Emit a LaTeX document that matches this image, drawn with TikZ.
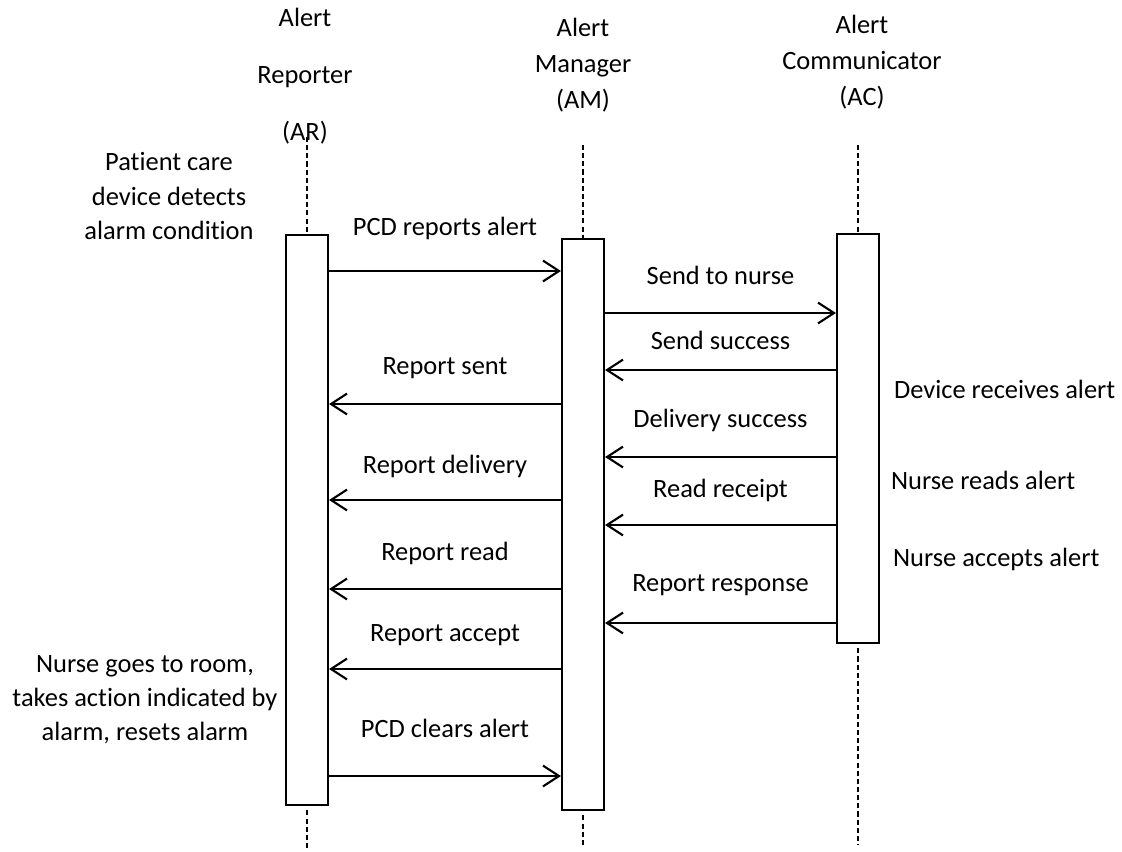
\documentclass[tikz,border=0pt]{standalone}
\usepackage{fontspec}
\setmainfont{Carlito}[Ligatures=NoCommon]
\usetikzlibrary{arrows.meta}

\tikzset{every picture/.style={line width=1.5pt, x=0.025cm, y=-0.025cm},
        every node/.style={font=\fontsize{18.8}{24.2}\selectfont, inner sep=0pt},
        lifeBox/.style={draw=black, fill=white, minimum width=1.05cm},
        lifeLine/.style={line width=1pt, dash pattern=on 3.6pt off 2.2pt},
        headText/.style={align=center, font=\fontsize{18.8}{25.6}\selectfont},
        msgArrow/.style={-{Straight Barb[length=4mm, width=5.2mm]}}}

\begin{document}
\begin{tikzpicture}
\useasboundingbox (0,0) rectangle (1122,851);

% draw activation boxes
\node[lifeBox, minimum height=14.25cm] (ar) at (307,520) {};
\node[lifeBox, minimum height=14.275cm] (am) at (583,524.5) {};
\node[lifeBox, minimum height=10.225cm] (ac) at (858,438.5) {};

% draw headers
\node[headText] (ar-head) at (305,76) {Alert\\[15pt]Reporter\\[15pt](AR)};
\node[headText] (am-head) at (583,65) {Alert\\Manager\\(AM)};
\node[headText] (ac-head) at (862,62) {Alert\\Communicator\\(AC)};

% draw lifelines
\foreach \n/\x/\t/\b in {ar/307/137/851, am/583/145/845, ac/858/145/845} {
    \coordinate (\n-top) at (\x,\t);
    \coordinate (\n-end) at (\x,\b);
    \draw[lifeLine] (\n-top) -- (\n.north);
    \draw[lifeLine, shorten <=3pt] (\n.south) -- (\n-end);
}

% draw messages
\foreach \s/\e/\y/\ly/\lbl [count=\i] in {
    ar.east/am.west/271/228/PCD reports alert,
    am.east/ac.west/313/275/Send to nurse,
    ac.west/am.east/370/340/Send success,
    am.west/ar.east/404/368/Report sent,
    ac.west/am.east/457/420/Delivery success,
    am.west/ar.east/500/466/Report delivery,
    ac.west/am.east/525/490/Read receipt,
    am.west/ar.east/589/553/Report read,
    ac.west/am.east/623/585/Report response,
    am.west/ar.east/669/635/Report accept,
    ar.east/am.west/776/728/PCD clears alert} {
    \draw[msgArrow] (\s |- 0,\y) -- (\e |- 0,\y) coordinate[midway] (mid-\i);
    \node (msg-\i) at (mid-\i |- 0,\ly) {\lbl};
}

% draw notes
\node[align=center] (note-detect) at (169,196) {Patient care\\device detects\\alarm condition};
\node[align=center] (note-action) at (145,700) {Nurse goes to room,\\takes action indicated by\\alarm, resets alarm};
\node[anchor=west] (note-recv) at (893,389) {Device receives alert};
\node[anchor=west] (note-read) at (890,480) {Nurse reads alert};
\node[anchor=west] (note-accept) at (892,559) {Nurse accepts alert};

\end{tikzpicture}
\end{document}
